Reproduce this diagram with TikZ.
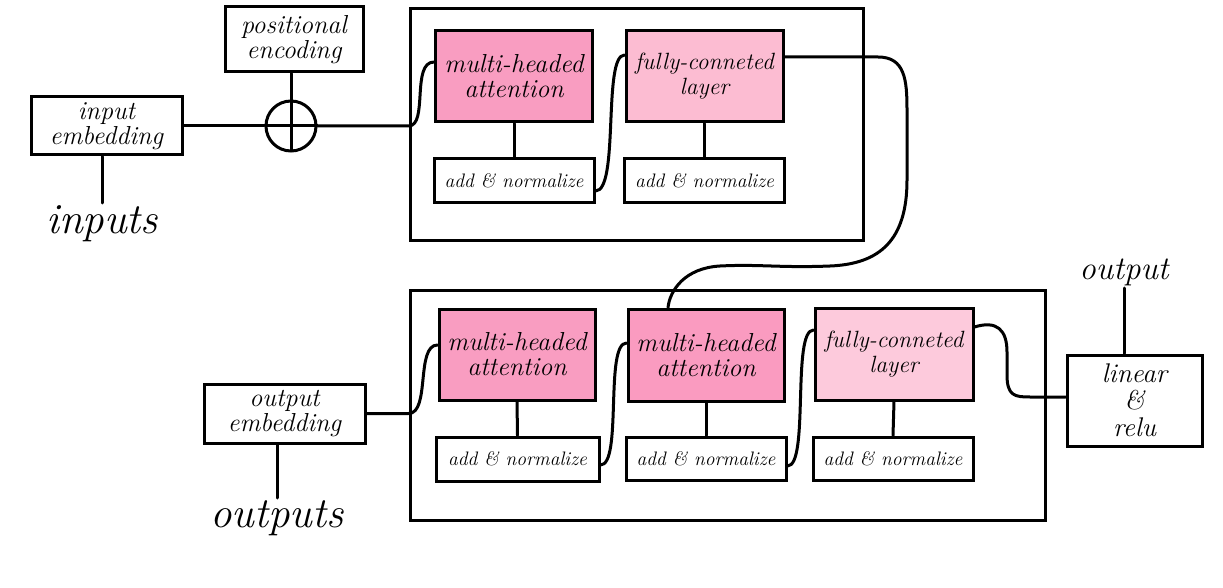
\documentclass[tikz,border=0pt]{standalone}
\usepackage{fontspec}
\definecolor{pinkA}{HTML}{F99DC1}
\definecolor{pinkB}{HTML}{FA9BC0}
\definecolor{pinkC}{HTML}{FCBCD2}
\definecolor{pinkD}{HTML}{FDCADC}
\tikzset{
  lw/.style={line width=3pt},
  blk/.style={draw, lw, rectangle, align=center, inner sep=0pt, font=\fontsize{26}{25}\selectfont\itshape},
  anbox/.style={blk, minimum width=160pt, minimum height=44pt, font=\fontsize{19.5}{20}\selectfont\itshape},
  attbox/.style={blk, minimum width=157pt, minimum height=91pt, font=\fontsize{26}{25}\selectfont\itshape},
  fcbox/.style={attbox, font=\fontsize{23.5}{25}\selectfont\itshape},
  bigtxt/.style={inner sep=2pt, font=\fontsize{43}{44}\selectfont\itshape},
  frame/.style={draw, lw, rectangle, inner sep=0pt},
  conn/.style={lw, line cap=round}
}
\begin{document}
\begin{tikzpicture}[x=1pt,y=-1pt]
\useasboundingbox (0,0) rectangle (1223,588);
% outer frames
\node[frame, minimum width=453pt, minimum height=231pt] (enc) at (636.5,124.5) {};
\node[frame, minimum width=635pt, minimum height=230pt] (dec) at (727.5,405) {};
% input side
\node[blk, minimum width=151pt, minimum height=58pt] (ie) at (106.5,126) {input\\embedding};
\node[blk, minimum width=138pt, minimum height=65pt] (pe) at (294,39.5) {positional\\encoding};
\node[draw, lw, circle, minimum size=50pt, inner sep=0pt] (plus) at (291,126) {};
\node[bigtxt, anchor=north] (inputs) at (102,203) {inputs};
% encoder
\node[attbox, fill=pinkA] (mha1) at (514,76.5) {multi-headed\\attention};
\node[anbox] (an1) at (514,181) {add \& normalize};
\node[fcbox, fill=pinkC] (fc1) at (704.5,76.5) {fully-conneted\\layer};
\node[anbox] (an2) at (704.5,181) {add \& normalize};
% decoder
\node[blk, minimum width=161pt, minimum height=59pt] (oe) at (284.5,413.5) {output\\embedding};
\node[bigtxt, anchor=north] (outputs) at (277,498) {outputs};
\node[attbox, fill=pinkA, minimum width=156pt] (mha2) at (517,354.5) {multi-headed\\attention};
\node[anbox, minimum width=163pt] (an3) at (517.5,459) {add \& normalize};
\node[attbox, fill=pinkB, minimum width=156pt, minimum height=92pt] (mha3) at (706,355) {multi-headed\\attention};
\node[anbox, minimum height=43pt] (an4) at (706,458.5) {add \& normalize};
\node[fcbox, fill=pinkD, minimum width=158pt, minimum height=92pt] (fc2) at (894,354) {fully-conneted\\layer};
\node[anbox, minimum height=43pt] (an5) at (893,458.5) {add \& normalize};
% output head
\node[blk, minimum width=135pt, minimum height=91pt, font=\fontsize{27}{27}\selectfont\itshape] (lr) at (1134.5,400.5) {linear\\\&\\relu};
\node[inner sep=2pt, font=\fontsize{33}{34}\selectfont\itshape, anchor=south] (output) at (1124,288) {output};
% connectors: input side
\draw[conn] (inputs.north |- ie.south) -- (inputs.north);
\draw[conn] (pe.south -| plus.north) -- (plus.north);
\draw[lw] (plus.north) -- (plus.south) (plus.west) -- (plus.east);
\draw[conn] (ie.east) -- (plus.west);
\draw[conn] (plus.east) -- (enc.west |- plus.east) .. controls +(20,0) and +(-23,0) .. ([yshift=14.5pt]mha1.west);
% encoder internals
\draw[conn] (mha1.south) -- (an1.north);
\draw[conn] (fc1.south) -- (an2.north);
\draw[conn] ([yshift=-10pt]an1.east) .. controls +(24,0) and +(-22,0) .. ([yshift=21.5pt]fc1.west);
% encoder to decoder
\draw[conn] ([yshift=19.5pt]fc1.east) -- (878,57) .. controls (905,57) and (907,80) .. (907,110) -- (907,180)
  .. controls (907,240) and (880,264) .. (830,266) .. controls (780,268) and (760,264) .. (720,266)
  .. controls (685,268) and (670,290) .. ([xshift=-38pt]mha3.north);
% decoder
\draw[conn] (outputs.north |- oe.south) -- (outputs.north);
\draw[conn] (oe.east) -- (dec.west |- oe.east) .. controls +(22,0) and +(-22,0) .. ([yshift=9.5pt]mha2.west);
\draw[conn] (mha2.south) -- (an3.north);
\draw[conn] (mha3.south) -- (an4.north);
\draw[conn] (fc2.south) -- (an5.north);
\draw[conn] ([yshift=-6pt]an3.east) .. controls +(22,0) and +(-22,0) .. ([yshift=12pt]mha3.west);
\draw[conn] ([yshift=-7.5pt]an4.east) .. controls +(22,0) and +(-22,0) .. ([yshift=24pt]fc2.west);
\draw[conn] ([yshift=27pt]fc2.east) .. controls (997,320) and (1007,330) .. (1007,352) -- (1007,375)
  .. controls (1007,396) and (1015,397) .. (1030,397) -- ([yshift=3.5pt]lr.west);
\draw[conn] (output.south) -- (output.south |- lr.north);
\end{tikzpicture}
\end{document}
